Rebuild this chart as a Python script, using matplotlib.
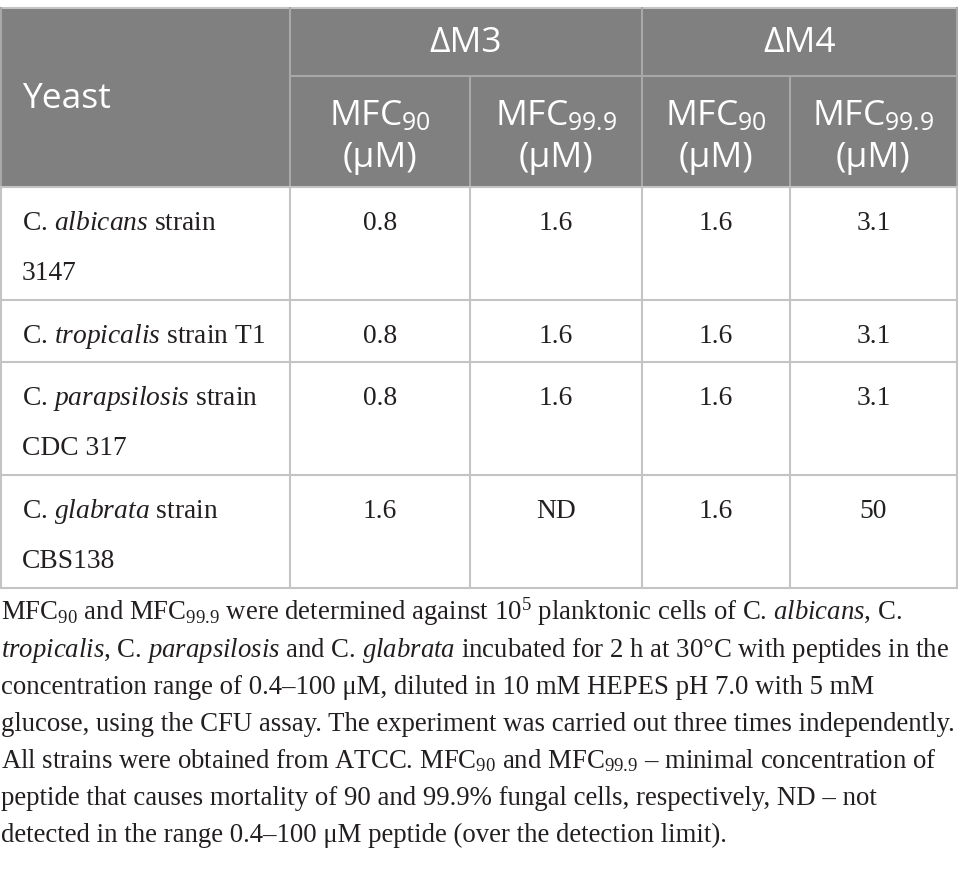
import matplotlib
matplotlib.use("Agg")
import matplotlib.pyplot as plt
from matplotlib.patches import Rectangle

plt.rcParams['mathtext.fontset'] = 'custom'
plt.rcParams['mathtext.rm'] = 'Liberation Serif'
plt.rcParams['mathtext.it'] = 'Liberation Serif:italic'
plt.rcParams['mathtext.sf'] = 'Open Sans'

# table content
yeasts = [r"C. $\mathit{albicans}$ strain" + "\n3147",
          r"C. $\mathit{tropicalis}$ strain T1",
          r"C. $\mathit{parapsilosis}$ strain" + "\nCDC 317",
          r"C. $\mathit{glabrata}$ strain" + "\nCBS138"]
groups = ["ΔM3", "ΔM4"]
sub_headers = [r"MFC$_{\mathsf{90}}$", r"MFC$_{\mathsf{99.9}}$",
               r"MFC$_{\mathsf{90}}$", r"MFC$_{\mathsf{99.9}}$"]
m3_mfc90 = ["0.8", "0.8", "0.8", "1.6"]
m3_mfc999 = ["1.6", "1.6", "1.6", "ND"]
m4_mfc90 = ["1.6", "1.6", "1.6", "1.6"]
m4_mfc999 = ["3.1", "3.1", "3.1", "50"]

caption = [
    r"MFC$_{90}$ and MFC$_{99.9}$ were determined against 10$^{5}$ planktonic cells of C. $\mathit{albicans}$, C.",
    r"$\mathit{tropicalis}$, C. $\mathit{parapsilosis}$ and C. $\mathit{glabrata}$ incubated for 2 h at 30°C with peptides in the",
    "concentration range of 0.4–100 μM, diluted in 10 mM HEPES pH 7.0 with 5 mM",
    "glucose, using the CFU assay. The experiment was carried out three times independently.",
    r"All strains were obtained from ATCC. MFC$_{90}$ and MFC$_{99.9}$ – minimal concentration of",
    "peptide that causes mortality of 90 and 99.9% fungal cells, respectively, ND – not",
    "detected in the range 0.4–100 μM peptide (over the detection limit).",
]

# layout (pixels)
col_x = [1, 290, 470, 642, 790, 957]
top, mid, head_bot = 8, 76, 187
row_y = [187, 300, 362, 475, 588]
header_gray = '#808080'
line_head = '#a8a8a8'
line_body = '#c4c4c4'

fig = plt.figure(figsize=(9.58, 8.72), dpi=100)
ax = fig.add_axes([0, 0, 1, 1])
ax.set_xlim(0, 958)
ax.set_ylim(872, 0)
ax.axis('off')

ax.add_patch(Rectangle((0, top), 958, head_bot - top, color=header_gray, lw=0))

# grid lines
ax.plot([0, 958], [top, top], color=line_body, lw=1.5)
ax.plot([col_x[1], 958], [mid, mid], color=line_head, lw=1.5)
for y in row_y:
    ax.plot([0, 958], [y, y], color=line_body, lw=1.5)
for x in [col_x[0], col_x[1], col_x[3], col_x[5]]:
    ax.plot([x, x], [top, head_bot], color=line_head, lw=1.5)
    ax.plot([x, x], [head_bot, row_y[-1]], color=line_body, lw=1.5)
for x in [col_x[2], col_x[4]]:
    ax.plot([x, x], [mid, head_bot], color=line_head, lw=1.5)
    ax.plot([x, x], [head_bot, row_y[-1]], color=line_body, lw=1.5)

# header text
hfont = dict(family='Open Sans', size=25.5, color='white')
ax.text(22, 99, "Yeast", ha='left', va='center', **hfont)
for i, g in enumerate(groups):
    xc = (col_x[1 + 2 * i] + col_x[3 + 2 * i]) / 2
    ax.text(xc, 43, g, ha='center', va='center', **hfont)
for i, s in enumerate(sub_headers):
    xc = (col_x[1 + i] + col_x[2 + i]) / 2
    ax.text(xc, 126, s, ha='center', va='baseline', **hfont)
    ax.text(xc, 167, "(μM)", ha='center', va='baseline', **hfont)

# body
bfont = dict(family='Liberation Serif', size=19.8, color='#231f20')
values = [m3_mfc90, m3_mfc999, m4_mfc90, m4_mfc999]
for r, name in enumerate(yeasts):
    base = row_y[r] + 43
    for k, line in enumerate(name.split("\n")):
        ax.text(22, base + k * 50, line, ha='left', va='baseline', **bfont)
    for c, col in enumerate(values):
        xc = (col_x[1 + c] + col_x[2 + c]) / 2
        ax.text(xc, base, col[r], ha='center', va='baseline', **bfont)

# caption
cfont = dict(family='Liberation Serif', size=19.3, color='#231f20')
for k, line in enumerate(caption):
    ax.text(1, 620 + k * 37, line, ha='left', va='baseline', **cfont)

fig.savefig("out.png", dpi=100)
